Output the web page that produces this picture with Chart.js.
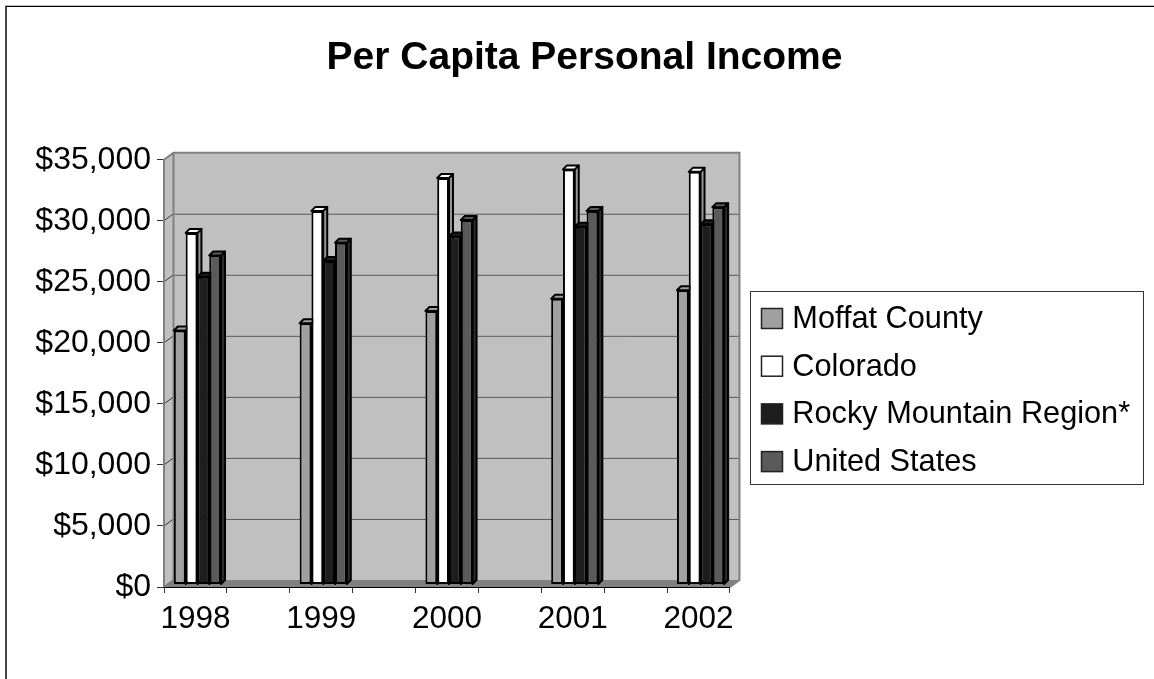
<!DOCTYPE html>
<html>
<head>
<meta charset="utf-8">
<title>Per Capita Personal Income</title>
<script src="https://cdn.jsdelivr.net/npm/chart.js@4"></script>
<style>
  html, body { margin: 0; padding: 0; background: #fff; }
  canvas { display: block; }
</style>
</head>
<body>
<canvas id="grafico" width="1154" height="679"></canvas>
<script>
// blank labels are the empty categories between the years, same as the original sheet
const categories = ['1998', '', '1999', '', '2000', '', '2001', '', '2002'];

const moffat   = [20800, null, 21400, null, 22400, null, 23400, null, 24100];
const colorado = [28800, null, 30600, null, 33300, null, 34000, null, 33800];
const rocky    = [25200, null, 26500, null, 28500, null, 29300, null, 29500];
const usa      = [26950, null, 28000, null, 29850, null, 30600, null, 30900];

const seriesNames = ['Moffat County', 'Colorado', 'Rocky Mountain Region*', 'United States'];
const seriesColors = ['#a0a0a0', '#ffffff', '#1e1e1e', '#5a5a5a'];
const sideColors = ['#6e6e6e', '#969696', '#0c0c0c', '#2c2c2c'];

const fontName = '"Liberation Sans", Arial, sans-serif';

// depth of the fake 3d walls and of each bar
const wallX = 9.5, wallY = 7;
const barShiftX = 2, barShiftY = 2.5;
const barDepthX = 4, barDepthY = 4;

function drawBarFaces(chart, index) {
  const ctx = chart.ctx;
  // side and top face of each bar, front face is the library's own bar
  chart.getDatasetMeta(index).data.forEach((bar, i) => {
    if (chart.data.datasets[index].data[i] == null) return;
    const p = bar.getProps(['x', 'y', 'base', 'width']);
    const right = p.x + p.width / 2, left = p.x - p.width / 2;
    ctx.strokeStyle = '#000';
    ctx.lineWidth = 2;
    ctx.lineJoin = 'round';
    ctx.fillStyle = sideColors[index];
    ctx.beginPath();
    ctx.moveTo(right, p.y);
    ctx.lineTo(right + barDepthX, p.y - barDepthY);
    ctx.lineTo(right + barDepthX, p.base - barDepthY);
    ctx.lineTo(right, p.base);
    ctx.closePath();
    ctx.fill();
    ctx.stroke();
    ctx.fillStyle = seriesColors[index];
    ctx.beginPath();
    ctx.moveTo(left, p.y);
    ctx.lineTo(left + barDepthX, p.y - barDepthY);
    ctx.lineTo(right + barDepthX, p.y - barDepthY);
    ctx.lineTo(right, p.y);
    ctx.closePath();
    ctx.fill();
    ctx.stroke();
  });
}

const look3d = {
  id: 'look3d',
  afterLayout(chart) {
    // put legend and title where the original has them
    const legend = chart.legend;
    legend.left = 744;
    legend.right = 1143;
    legend.top = 287;
    legend.bottom = 600;
    const title = chart.titleBlock;
    title.left = 0;
    title.right = 1169;
  },
  beforeDraw(chart) {
    const ctx = chart.ctx;
    ctx.save();
    // outer frame, only top and left show in the picture
    ctx.fillStyle = '#444';
    ctx.fillRect(5, 6, 2, 673);
    ctx.fillStyle = '#bbb';
    ctx.fillRect(5, 5, 1149, 1);
    ctx.fillStyle = '#000';
    ctx.fillRect(6, 6, 1148, 1);
    // legend frame
    ctx.strokeStyle = '#333';
    ctx.lineWidth = 1;
    ctx.strokeRect(750.5, 291.5, 393, 193);
    ctx.restore();
  },
  beforeDatasetsDraw(chart) {
    const ctx = chart.ctx;
    const x = chart.scales.x, y = chart.scales.y;
    const l = x.left, r = x.right, t = y.top, b = y.bottom;
    ctx.save();
    // back wall
    ctx.fillStyle = '#c0c0c0';
    ctx.fillRect(l + wallX, t - wallY, r - l, b - t);
    // left wall
    ctx.beginPath();
    ctx.moveTo(l, b);
    ctx.lineTo(l + wallX, b - wallY);
    ctx.lineTo(l + wallX, t - wallY);
    ctx.lineTo(l, t);
    ctx.closePath();
    ctx.fill();
    // floor
    ctx.fillStyle = '#808080';
    ctx.beginPath();
    ctx.moveTo(l, b);
    ctx.lineTo(r, b);
    ctx.lineTo(r + wallX, b - wallY);
    ctx.lineTo(l + wallX, b - wallY);
    ctx.closePath();
    ctx.fill();
    // gridlines on the wall
    y.ticks.forEach((tick, i) => {
      const py = y.getPixelForTick(i);
      if (i > 0 && tick.value < 35000) {
        ctx.strokeStyle = '#5a5a5a';
        ctx.lineWidth = 1;
        ctx.beginPath();
        ctx.moveTo(l + wallX, py - wallY + 0.5);
        ctx.lineTo(r + wallX, py - wallY + 0.5);
        ctx.stroke();
      }
      if (tick.value > 0) {
        ctx.strokeStyle = '#333';
        ctx.lineWidth = 1;
        ctx.beginPath();
        ctx.moveTo(l, py);
        ctx.lineTo(l + wallX, py - wallY);
        ctx.stroke();
      }
    });
    // wall outlines
    ctx.strokeStyle = '#808080';
    ctx.lineWidth = 2;
    ctx.beginPath();
    ctx.moveTo(l, b);
    ctx.lineTo(l, t);
    ctx.lineTo(l + wallX, t - wallY);
    ctx.lineTo(r + wallX, t - wallY);
    ctx.lineTo(r + wallX, b - wallY);
    ctx.lineTo(r, b);
    ctx.moveTo(l + wallX, t - wallY);
    ctx.lineTo(l + wallX, b - wallY);
    ctx.lineTo(l, b);
    ctx.stroke();

    // Chart.js draws the last dataset first, here the right bars must cover the left ones
    ctx.translate(barShiftX, -barShiftY);
    chart.data.datasets.forEach((ds, index) => {
      drawBarFaces(chart, index);
      chart.getDatasetMeta(index).controller.draw();
    });
    ctx.restore();
    return false;
  },
  afterDraw(chart) {
    // legend swatches are a little wider than the gap Chart.js would leave
    const ctx = chart.ctx;
    ctx.save();
    seriesColors.forEach((color, i) => {
      ctx.fillStyle = color;
      ctx.strokeStyle = '#222';
      ctx.lineWidth = 1.5;
      const cy = 318 + i * 47.7;
      ctx.fillRect(761.5, cy - 9.5, 21, 20);
      ctx.strokeRect(761.5, cy - 9.5, 21, 20);
    });
    ctx.restore();
  }
};

const datasets = [moffat, colorado, rocky, usa].map((values, i) => ({
  label: seriesNames[i],
  data: values,
  backgroundColor: seriesColors[i],
  borderColor: '#000',
  borderWidth: 2,
  borderSkipped: false,
  categoryPercentage: 0.75,
  barPercentage: 1
}));

new Chart(document.getElementById('grafico'), {
  type: 'bar',
  data: { labels: categories, datasets: datasets },
  plugins: [look3d],
  options: {
    responsive: false,
    animation: false,
    devicePixelRatio: 1,
    layout: { padding: { left: 0, right: 180.7, top: 0, bottom: 42 } },
    plugins: {
      tooltip: { enabled: false },
      title: {
        display: true,
        text: 'Per Capita Personal Income',
        color: '#000',
        font: { family: fontName, size: 39, weight: 'bold' },
        padding: { top: 34.6, bottom: 78.3 }
      },
      legend: {
        position: 'right',
        align: 'start',
        labels: {
          color: '#000',
          boxWidth: 16,
          boxHeight: 14,
          padding: 17,
          font: { family: fontName, size: 30.7 },
          // own swatches are drawn in afterDraw
          generateLabels: c => Chart.defaults.plugins.legend.labels.generateLabels(c).map(item => ({
            ...item, fillStyle: 'transparent', strokeStyle: 'transparent'
          }))
        }
      }
    },
    scales: {
      x: {
        afterFit(scale) { scale.height = 50; },
        border: { color: '#000', width: 2 },
        grid: { drawOnChartArea: false, tickColor: '#333', tickLength: 6, tickWidth: 1 },
        ticks: {
          color: '#000',
          font: { family: fontName, size: 31.5 },
          autoSkip: false,
          maxRotation: 0,
          padding: 7
        }
      },
      y: {
        min: 0,
        max: 35000,
        afterFit(scale) { scale.width = 164; },
        border: { color: '#000', width: 2 },
        grid: { drawOnChartArea: false, tickColor: '#333', tickLength: 7, tickWidth: 1 },
        ticks: {
          stepSize: 5000,
          color: '#000',
          font: { family: fontName, size: 32 },
          padding: 6,
          callback: v => '$' + v.toLocaleString('en-US')
        }
      }
    }
  }
});
</script>
</body>
</html>
